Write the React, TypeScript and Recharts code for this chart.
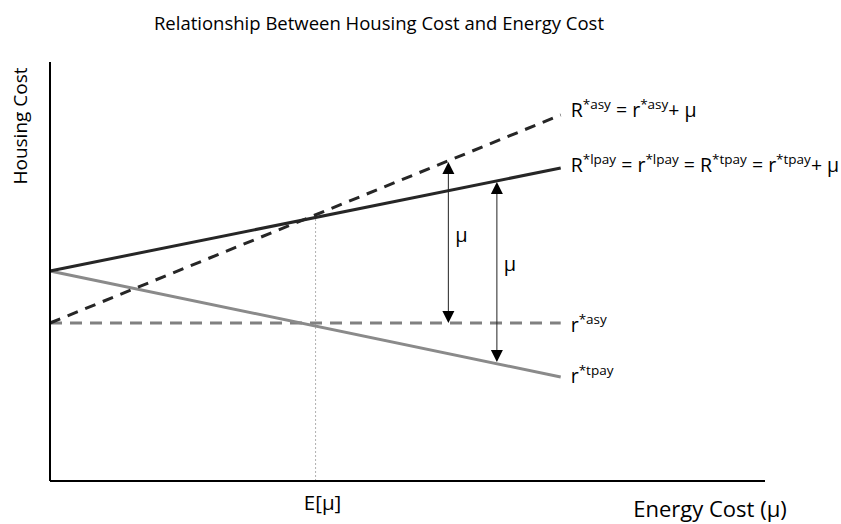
import { LineChart, Line, XAxis, YAxis, ReferenceLine } from 'recharts'

// energy cost positions where the lines start / end
const energyCost = [0, 10]
const eMu = 5.2
const xMax = 14

// housing cost values
const upperAsy = [158, 366] // R*asy = r*asy + μ
const lpay = [210, 313] // R*lpay = r*lpay = R*tpay = r*tpay + μ
const lowerAsy = [158, 158] // r*asy
const lowerTpay = [210, 104] // r*tpay

// the two μ arrows
const arrowX = [7.8, 8.75]
const arrowTop = [319, 299]
const arrowBottom = [158, 119]
const eLineTop = 266

const FONT = "'Open Sans', sans-serif"

const data = energyCost.map((x, i) => ({
	x,
	upperAsy: upperAsy[i],
	lpay: lpay[i],
	lowerAsy: lowerAsy[i],
	lowerTpay: lowerTpay[i],
}))

type Part = { t: string; sup?: boolean }

const Sup = ({ x, y, parts, dy }: { x: number; y: number; parts: Part[]; dy: number }) => (
	<text x={x} y={y + dy} fontFamily={FONT} fontSize={19.5} fill="#000">
		{parts.map((p, i) => {
			const prev = i > 0 ? parts[i - 1].sup : false
			let shift = 0
			if (p.sup && !prev) shift = -8
			if (!p.sup && prev) shift = 8
			return (
				<tspan key={i} dy={shift} fontSize={p.sup ? 13.5 : 19.5}>
					{p.t}
				</tspan>
			)
		})}
	</text>
)

// draw a label only next to the last point of a line
const endLabel = (parts: Part[], dy: number) => (p: any) => {
	if (p.index !== energyCost.length - 1) return <g key={p.index} />
	return (
		<g key={p.index}>
			<Sup x={p.cx + 10} y={p.cy} parts={parts} dy={dy} />
		</g>
	)
}

const Arrow = (p: any) => {
	const { x1, y1, x2, y2 } = p
	const top = Math.min(y1, y2)
	const bottom = Math.max(y1, y2)
	const x = x1
	return (
		<g>
			<line x1={x} y1={top + 10} x2={x2} y2={bottom - 10} stroke="#222" strokeWidth={1} />
			<polygon points={`${x},${top} ${x - 6},${top + 12} ${x + 6},${top + 12}`} fill="#000" />
			<polygon points={`${x},${bottom} ${x - 6},${bottom - 12} ${x + 6},${bottom - 12}`} fill="#000" />
			<text x={x + 13} y={(top + bottom) / 2 - 1} textAnchor="middle" fontFamily={FONT} fontSize={20} fill="#000">
				μ
			</text>
		</g>
	)
}

const App = () => {
	return (
		<div style={{ position: 'absolute', left: 0, top: 0, width: 841, height: 524, background: '#fff' }}>
			<LineChart width={841} height={524} data={data} margin={{ top: 62, right: 76, bottom: 13, left: 40 }}>
				<XAxis
					type="number"
					dataKey="x"
					domain={[0, xMax]}
					ticks={[eMu]}
					tickFormatter={() => 'E[μ]'}
					tickLine={false}
					tickSize={0}
					tickMargin={14}
					height={30}
					axisLine={{ stroke: '#000', strokeWidth: 2 }}
					tick={{ fill: '#000', fontSize: 20.5, fontFamily: FONT, dx: 7 }}
				/>
				<YAxis
					type="number"
					domain={[0, 419]}
					width={10}
					tick={false}
					tickLine={false}
					axisLine={{ stroke: '#000', strokeWidth: 2 }}
				/>
				<ReferenceLine
					segment={[
						{ x: eMu, y: 0 },
						{ x: eMu, y: eLineTop },
					]}
					stroke="#b0b0b0"
					strokeWidth={1}
					strokeDasharray="2 2"
				/>
				<Line
					dataKey="lowerAsy"
					stroke="#808080"
					strokeWidth={3}
					strokeDasharray="12 8"
					isAnimationActive={false}
					dot={endLabel([{ t: 'r' }, { t: '*asy', sup: true }], 9)}
				/>
				<Line
					dataKey="lowerTpay"
					stroke="#8a8a8a"
					strokeWidth={3}
					isAnimationActive={false}
					dot={endLabel([{ t: 'r' }, { t: '*tpay', sup: true }], 6)}
				/>
				<Line
					dataKey="lpay"
					stroke="#262626"
					strokeWidth={3}
					isAnimationActive={false}
					dot={endLabel(
						[
							{ t: 'R' },
							{ t: '*lpay', sup: true },
							{ t: ' = r' },
							{ t: '*lpay', sup: true },
							{ t: ' = R' },
							{ t: '*tpay', sup: true },
							{ t: ' = r' },
							{ t: '*tpay', sup: true },
							{ t: '+ μ' },
						],
						4
					)}
				/>
				<Line
					dataKey="upperAsy"
					stroke="#262626"
					strokeWidth={3}
					strokeDasharray="11 8"
					isAnimationActive={false}
					dot={endLabel(
						[{ t: 'R' }, { t: '*asy', sup: true }, { t: ' = r' }, { t: '*asy', sup: true }, { t: '+ μ' }],
						2
					)}
				/>
				{arrowX.map((x, i) => (
					<ReferenceLine
						key={i}
						segment={[
							{ x, y: arrowBottom[i] },
							{ x, y: arrowTop[i] },
						]}
						shape={(p: any) => <Arrow {...p} />}
					/>
				))}
			</LineChart>
			<svg width={841} height={524} style={{ position: 'absolute', left: 0, top: 0, pointerEvents: 'none' }}>
				<text x={379} y={30} textAnchor="middle" fontFamily={FONT} fontSize={18.5} fill="#000">
					Relationship Between Housing Cost and Energy Cost
				</text>
				<text x={0} y={0} transform="translate(27,126) rotate(-90)" textAnchor="middle" fontFamily={FONT} fontSize={19} fill="#000">
					Housing Cost
				</text>
				<text x={710} y={517} textAnchor="middle" fontFamily={FONT} fontSize={22} fill="#000">
					Energy Cost (μ)
				</text>
			</svg>
		</div>
	)
}

export default App
